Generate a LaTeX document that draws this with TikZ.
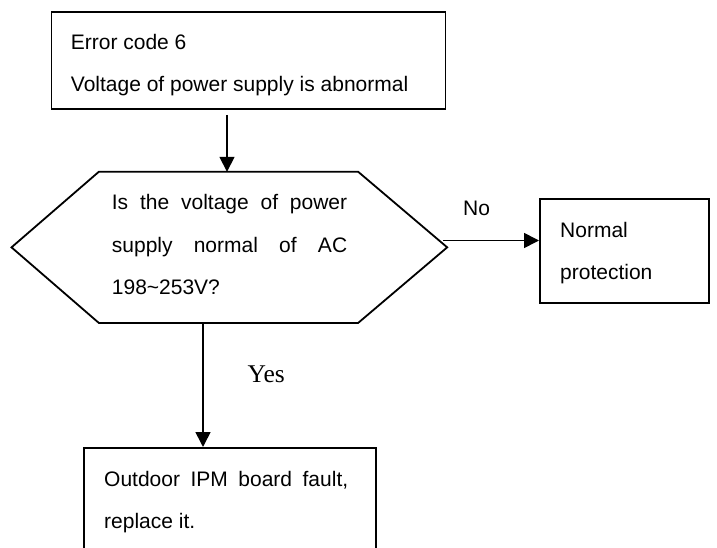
\documentclass[tikz,border=0pt]{standalone}
\usepackage{fontspec}
\setmainfont{Liberation Sans}
\newfontfamily\yesfont{Liberation Serif}
\usetikzlibrary{arrows.meta}
\tikzset{
  boxline/.style={draw=black, line width=1.8pt},
  framebox/.style={boxline, inner sep=0pt, anchor=north west},
  txt/.style={inner sep=0pt, anchor=base west, font=\fontsize{21}{25}\selectfont},
  arr/.style={line width=1.6pt, -{Triangle[length=15pt,width=15pt]}},
  hexbody/.style={inner sep=0pt, minimum width=435.3pt, minimum height=150.7pt}
}
\begin{document}
\begin{tikzpicture}[x=1pt,y=-1pt]
\clip (0,0) rectangle (717,548);
\fill[white] (0,0) rectangle (717,548);

% top box
\node[framebox, minimum width=394pt, minimum height=97pt] (err) at (50.5,11.5) {};
\node[txt] (e1) at (70.7,50) {Error code 6};
\node[txt] (e2) at (70.7,91.7) {Voltage of power supply is abnormal};

% hexagon
\node[hexbody] (hex) at (229.35,247.35) {};
\draw[boxline, line join=miter]
  (hex.west) -- ([xshift=87.3pt]hex.north west) -- ([xshift=-89pt]hex.north east)
  -- (hex.east) -- ([xshift=-89pt]hex.south east) -- ([xshift=87.3pt]hex.south west) -- cycle;
\node[txt] (h1) at (111.7,210) {\makebox[235.3pt][s]{Is the voltage of power}};
\node[txt] (h2) at (111.7,252) {\makebox[235.3pt][s]{supply normal of AC}};
\node[txt] (h3) at (111.7,294) {198\char`~253V?};

% normal protection
\node[framebox, minimum width=169pt, minimum height=104pt] (np) at (539,198) {};
\node[txt] (n1) at (560,237) {Normal};
\node[txt] (n2) at (560,279) {protection};
\node[txt] (no) at (463,215) {No};

% bottom box
\node[framebox, minimum width=292pt, minimum height=130pt] (ipm) at (83,447) {};
\node[txt] (b1) at (104,486.5) {\makebox[244pt][s]{Outdoor IPM board fault,}};
\node[txt] (b2) at (104,528) {replace it.};
\node[inner sep=0pt, anchor=base west, font=\yesfont\fontsize{25.5}{30}\selectfont] (yes) at (247.5,382.7) {Yes};

% connectors
\coordinate (a1) at (227,115);
\draw[arr] (a1) -- (a1 |- hex.north);
\coordinate (a2) at (443,240.5);
\draw[arr] (a2) -- (a2 -| np.west);
\coordinate (a3) at (203,322.7);
\draw[arr] (a3) -- (a3 |- ipm.north);
\end{tikzpicture}
\end{document}
